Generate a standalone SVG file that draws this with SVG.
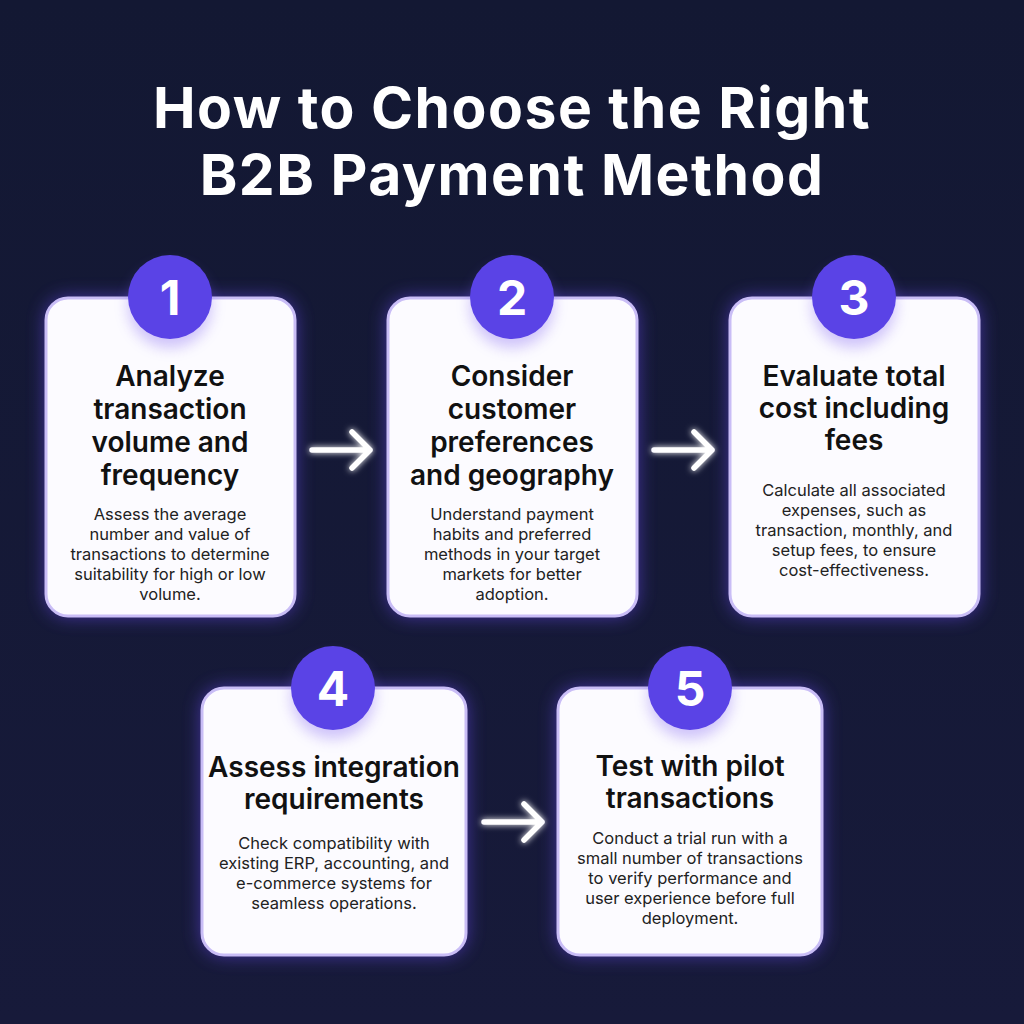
<svg xmlns="http://www.w3.org/2000/svg" width="1024" height="1024" viewBox="0 0 1024 1024">
<defs>
<linearGradient id="bg" x1="0" y1="0" x2="0" y2="1">
<stop offset="0" stop-color="#131833"/>
<stop offset="1" stop-color="#171a3a"/>
</linearGradient>
<filter id="glow" x="-20%" y="-20%" width="140%" height="140%">
<feGaussianBlur stdDeviation="9"/>
</filter>
<filter id="cshadow" x="-50%" y="-50%" width="200%" height="200%">
<feGaussianBlur stdDeviation="7"/>
</filter>
<filter id="aglow" x="-30%" y="-60%" width="160%" height="220%">
<feGaussianBlur stdDeviation="3" result="b"/>
<feMerge><feMergeNode in="b"/><feMergeNode in="SourceGraphic"/></feMerge>
</filter>
<style>
.title{font-family:Inter,"Noto Sans",sans-serif;font-weight:700;font-size:57px;letter-spacing:1.5px;fill:#ffffff;text-anchor:middle}
.halo{fill:#6a4cf5;opacity:0.55}
.card{fill:#fcfbff;stroke:#c9bdf6;stroke-width:3}
.cshadow{fill:#7a5cf0;opacity:0.35}
.badge{fill:#5a43e6}
.num{font-family:Inter,"Noto Sans",sans-serif;font-weight:700;font-size:48px;fill:#ffffff;text-anchor:middle}
.head{font-family:Inter,"Noto Sans",sans-serif;font-weight:600;font-size:28px;fill:#111111;text-anchor:middle}
.body{font-family:Inter,"Noto Sans",sans-serif;font-weight:400;font-size:16.5px;fill:#222222;text-anchor:middle}
.arrow{fill:none;stroke:#ffffff;stroke-width:5.5;stroke-linecap:round;stroke-linejoin:round}
</style>
</defs>
<rect width="1024" height="1024" fill="url(#bg)"/>
<g id="title">
<text class="title" x="512" y="128">How to Choose the Right</text>
<text class="title" x="512" y="195">B2B Payment Method</text>
</g>
<g id="connectors">
<path class="arrow" filter="url(#aglow)" d="M312 450 H370 M352 432 L370 450 L352 468"/>
<path class="arrow" filter="url(#aglow)" d="M654 450 H712 M694 432 L712 450 L694 468"/>
<path class="arrow" filter="url(#aglow)" d="M484 822 H542 M524 804 L542 822 L524 840"/>
</g>
<g id="step1">
<rect class="halo" x="45" y="297" width="251" height="320" rx="23" filter="url(#glow)"/>
<rect class="card" x="46" y="298" width="249" height="318" rx="22"/>
<circle class="cshadow" cx="170" cy="306" r="42" filter="url(#cshadow)"/>
<circle class="badge" cx="170" cy="297" r="42"/>
<text class="num" x="170" y="315">1</text>
<text class="head" x="170" y="386">Analyze</text>
<text class="head" x="170" y="419">transaction</text>
<text class="head" x="170" y="452">volume and</text>
<text class="head" x="170" y="485">frequency</text>
<text class="body" x="170" y="520">Assess the average</text>
<text class="body" x="170" y="540">number and value of</text>
<text class="body" x="170" y="560">transactions to determine</text>
<text class="body" x="170" y="580">suitability for high or low</text>
<text class="body" x="170" y="600">volume.</text>
</g>
<g id="step2">
<rect class="halo" x="387" y="297" width="251" height="320" rx="23" filter="url(#glow)"/>
<rect class="card" x="388" y="298" width="249" height="318" rx="22"/>
<circle class="cshadow" cx="512" cy="306" r="42" filter="url(#cshadow)"/>
<circle class="badge" cx="512" cy="297" r="42"/>
<text class="num" x="512" y="315">2</text>
<text class="head" x="512" y="386">Consider</text>
<text class="head" x="512" y="419">customer</text>
<text class="head" x="512" y="452">preferences</text>
<text class="head" x="512" y="485">and geography</text>
<text class="body" x="512" y="520">Understand payment</text>
<text class="body" x="512" y="540">habits and preferred</text>
<text class="body" x="512" y="560">methods in your target</text>
<text class="body" x="512" y="580">markets for better</text>
<text class="body" x="512" y="600">adoption.</text>
</g>
<g id="step3">
<rect class="halo" x="729" y="297" width="251" height="320" rx="23" filter="url(#glow)"/>
<rect class="card" x="730" y="298" width="249" height="318" rx="22"/>
<circle class="cshadow" cx="854" cy="306" r="42" filter="url(#cshadow)"/>
<circle class="badge" cx="854" cy="297" r="42"/>
<text class="num" x="854" y="315">3</text>
<text class="head" x="854" y="386">Evaluate total</text>
<text class="head" x="854" y="418">cost including</text>
<text class="head" x="854" y="450">fees</text>
<text class="body" x="854" y="496">Calculate all associated</text>
<text class="body" x="854" y="516">expenses, such as</text>
<text class="body" x="854" y="536">transaction, monthly, and</text>
<text class="body" x="854" y="556">setup fees, to ensure</text>
<text class="body" x="854" y="576">cost-effectiveness.</text>
</g>
<g id="step4">
<rect class="halo" x="201" y="687" width="266" height="269" rx="23" filter="url(#glow)"/>
<rect class="card" x="202" y="688" width="264" height="267" rx="22"/>
<circle class="cshadow" cx="333" cy="697" r="42" filter="url(#cshadow)"/>
<circle class="badge" cx="333" cy="688" r="42"/>
<text class="num" x="333" y="706">4</text>
<text class="head" x="334" y="777">Assess integration</text>
<text class="head" x="334" y="809">requirements</text>
<text class="body" x="334" y="849">Check compatibility with</text>
<text class="body" x="334" y="869">existing ERP, accounting, and</text>
<text class="body" x="334" y="889">e-commerce systems for</text>
<text class="body" x="334" y="909">seamless operations.</text>
</g>
<g id="step5">
<rect class="halo" x="557" y="687" width="266" height="269" rx="23" filter="url(#glow)"/>
<rect class="card" x="558" y="688" width="264" height="267" rx="22"/>
<circle class="cshadow" cx="690" cy="697" r="42" filter="url(#cshadow)"/>
<circle class="badge" cx="690" cy="688" r="42"/>
<text class="num" x="690" y="706">5</text>
<text class="head" x="690" y="776">Test with pilot</text>
<text class="head" x="690" y="808">transactions</text>
<text class="body" x="690" y="844">Conduct a trial run with a</text>
<text class="body" x="690" y="864">small number of transactions</text>
<text class="body" x="690" y="884">to verify performance and</text>
<text class="body" x="690" y="904">user experience before full</text>
<text class="body" x="690" y="924">deployment.</text>
</g>
</svg>
